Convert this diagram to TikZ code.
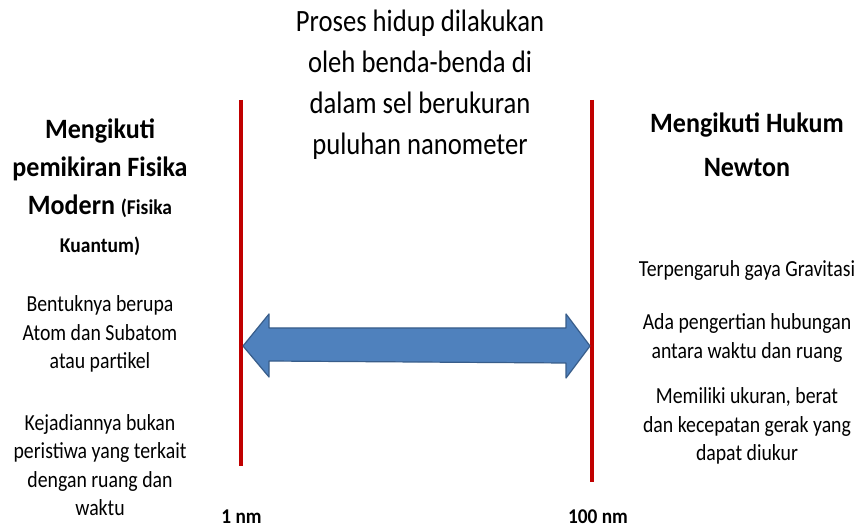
\documentclass[tikz,border=0pt]{standalone}
\usepackage{fontspec}
\usetikzlibrary{calc}
\setmainfont{Carlito}
\newfontfamily\cbody[FakeStretch=0.86]{Carlito}
\newfontfamily\chead[FakeStretch=0.93]{Carlito}
\newfontfamily\cscale[FakeStretch=0.92]{Carlito}
\definecolor{redline}{RGB}{192,0,0}
\definecolor{arrowfill}{RGB}{79,129,189}
\definecolor{arrowedge}{RGB}{56,93,138}
\begin{document}
\begin{tikzpicture}[x=1pt,y=-1pt,
  txt/.style={inner sep=0pt,align=center,text=black},
  bodytxt/.style={txt,font=\cbody\fontsize{23}{28.5}\selectfont},
  headtxt/.style={txt,font=\chead\bfseries\fontsize{28}{38}\selectfont},
  toptxt/.style={txt,font=\cbody\fontsize{31}{41}\selectfont},
  scaletxt/.style={txt,anchor=base,font=\cscale\bfseries\fontsize{21}{24}\selectfont},
  limit/.style={draw=redline,line width=4pt},
  bigarrow/.style={fill=arrowfill,draw=arrowedge,line width=1.2pt,line join=round}]
\useasboundingbox (0,0) rectangle (860,529);
% red limits
\coordinate (L1) at (241,100);
\coordinate (L2) at (241,466);
\coordinate (R1) at (592,100);
\coordinate (R2) at (592,482);
\draw[limit] (L1) -- (L2);
\draw[limit] (R1) -- (R2);
% double arrow
\coordinate (AL) at (243,346);
\coordinate (AR) at (590,346);
\draw[bigarrow] (AL) -- ++(26,-32) -- ++(0,14) -- ($(AR)+(-24,-18)$) -- ++(0,-14) -- (AR)
  -- ++(-24,32) -- ++(0,-15) -- ($(AL)+(26,15)$) -- ++(0,16) -- cycle;
% top text
\node[toptxt] (top) at (420,85) {Proses hidup dilakukan\\oleh benda-benda di\\dalam sel berukuran\\puluhan nanometer};
% left
\node[headtxt] (lhead) at (100,187) {Mengikuti\\pemikiran Fisika\\Modern {\fontsize{21}{38}\selectfont(Fisika}\\{\fontsize{21}{35}\selectfont Kuantum)}};
\node[bodytxt] (lb1) at (100,334) {Bentuknya berupa\\Atom dan Subatom\\atau partikel};
\node[bodytxt] (lb2) at (100,465) {Kejadiannya bukan\\peristiwa yang terkait\\dengan ruang dan\\waktu};
% right
\node[headtxt,font=\chead\bfseries\fontsize{28}{44}\selectfont] (rhead) at (747,145) {Mengikuti Hukum\\Newton};
\node[bodytxt] (rb0) at (747,270) {Terpengaruh gaya Gravitasi};
\node[bodytxt] (rb1) at (747,338) {Ada pengertian hubungan\\antara waktu dan ruang};
\node[bodytxt] (rb2) at (747,426) {Memiliki ukuran, berat\\dan kecepatan gerak yang\\dapat diukur};
% scale labels
\node[scaletxt] (s1) at (241.5,523) {1 nm};
\node[scaletxt] (s100) at (598,523) {100 nm};
\end{tikzpicture}
\end{document}
